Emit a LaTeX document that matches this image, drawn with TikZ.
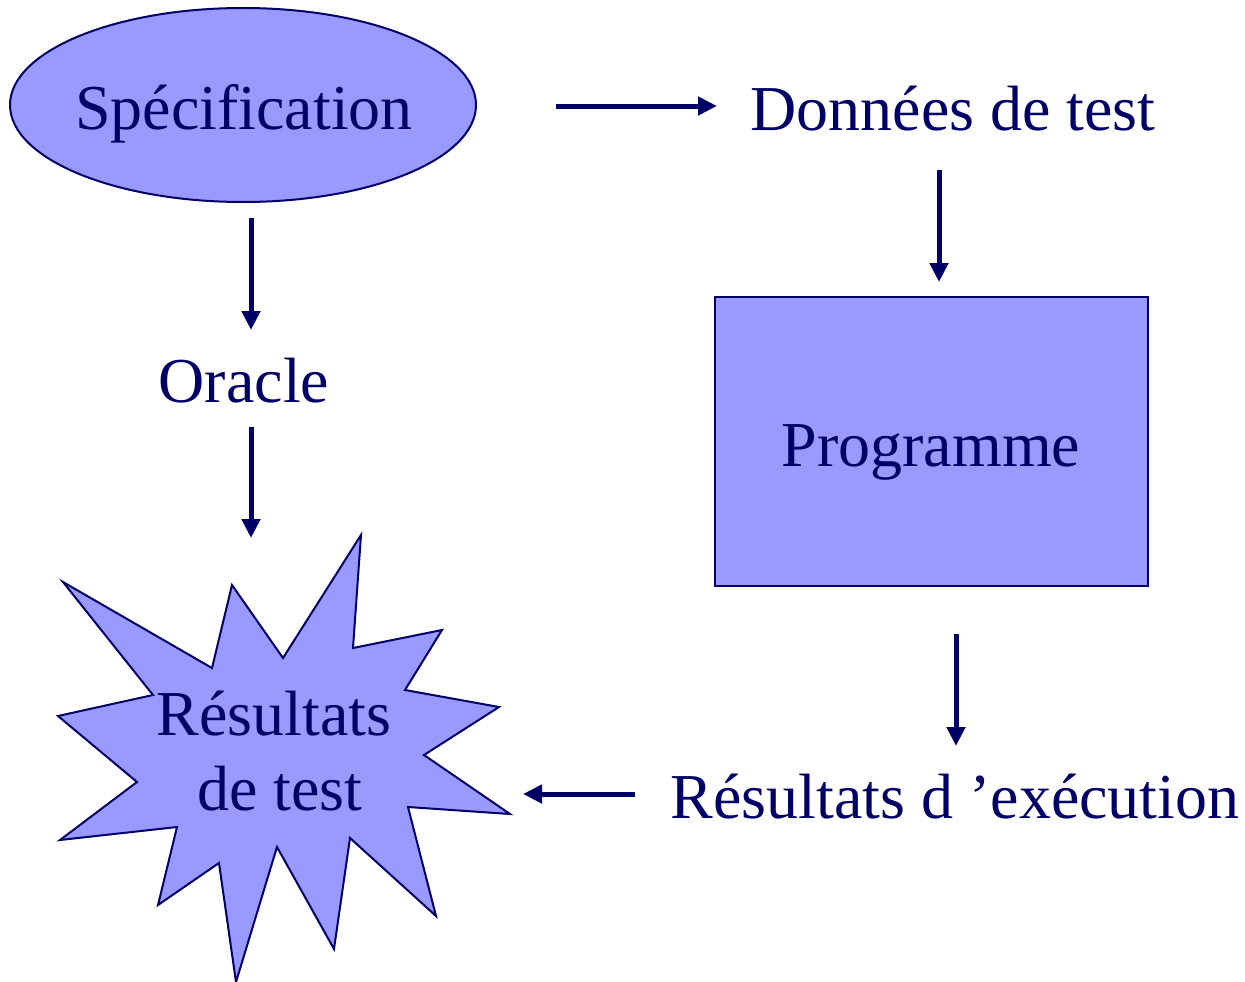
\documentclass[tikz,border=0pt]{standalone}
\usepackage{fontspec}
\setmainfont{Liberation Serif}
\usetikzlibrary{shapes.geometric,arrows.meta}
\definecolor{ink}{HTML}{000066}
\definecolor{lilac}{HTML}{9999FF}
\tikzset{
  lbl/.style={text=ink, font=\fontsize{64}{75}\selectfont, inner sep=0pt},
  shapeline/.style={draw=ink, line width=2pt, fill=lilac},
  flow/.style={draw=ink, line width=5pt, -{Triangle[length=19pt,width=18pt]}},
}
\begin{document}
\begin{tikzpicture}[x=1pt,y=-1pt]
  \useasboundingbox (0,0) rectangle (1245,982);

  % Specification ellipse
  \node[shapeline, ellipse, minimum width=466pt, minimum height=194pt, inner sep=0pt] (specshape) at (243,105) {};
  \node[lbl, anchor=base] (spec) at (244,129) {Spécification};

  % Programme box
  \node[shapeline, rectangle, minimum width=433pt, minimum height=289pt, inner sep=0pt] (progbox) at (931.5,441.5) {};
  \node[lbl, anchor=base] (prog) at (931,466) {Programme};

  % Burst for the test results
  \draw[shapeline, line join=miter]
    (63,582) -- (212,668) -- (232,585) -- (283,658) -- (361,535) -- (353,648)
    -- (442,630) -- (405,690) -- (499,707) -- (424,755) -- (510,814) -- (408,807)
    -- (436,916) -- (350,838) -- (334,949) -- (277,847) -- (236,982) -- (219,863)
    -- (158,905) -- (177,827) -- (60,840) -- (137,782) -- (58,716) -- (153,695)
    -- cycle;
  \node[lbl, align=center, anchor=base] (restest) at (274,810) {Résultats\\ \hspace*{12pt}de test};

  % Plain labels
  \node[lbl, anchor=base] (donnees) at (953,130) {Données de test};
  \node[lbl, anchor=base] (oracle) at (244,402) {Oracle};
  \node[lbl, anchor=base] (resexec) at (955,818) {Résultats d ’exécution};

  % Arrow end points
  \coordinate (a1s) at (556,106);  \coordinate (a1e) at (717,106);
  \coordinate (a2s) at (939,170);  \coordinate (a2e) at (939,282);
  \coordinate (a3s) at (251,218);  \coordinate (a3e) at (251,330);
  \coordinate (a4s) at (251,427);  \coordinate (a4e) at (251,538);
  \coordinate (a5s) at (956,634);  \coordinate (a5e) at (956,746);
  \coordinate (a6s) at (635,794);  \coordinate (a6e) at (523,794);

  \draw[flow] (a1s) -- (a1e);
  \draw[flow] (a2s) -- (a2e);
  \draw[flow] (a3s) -- (a3e);
  \draw[flow] (a4s) -- (a4e);
  \draw[flow] (a5s) -- (a5e);
  \draw[flow] (a6s) -- (a6e);
\end{tikzpicture}
\end{document}
